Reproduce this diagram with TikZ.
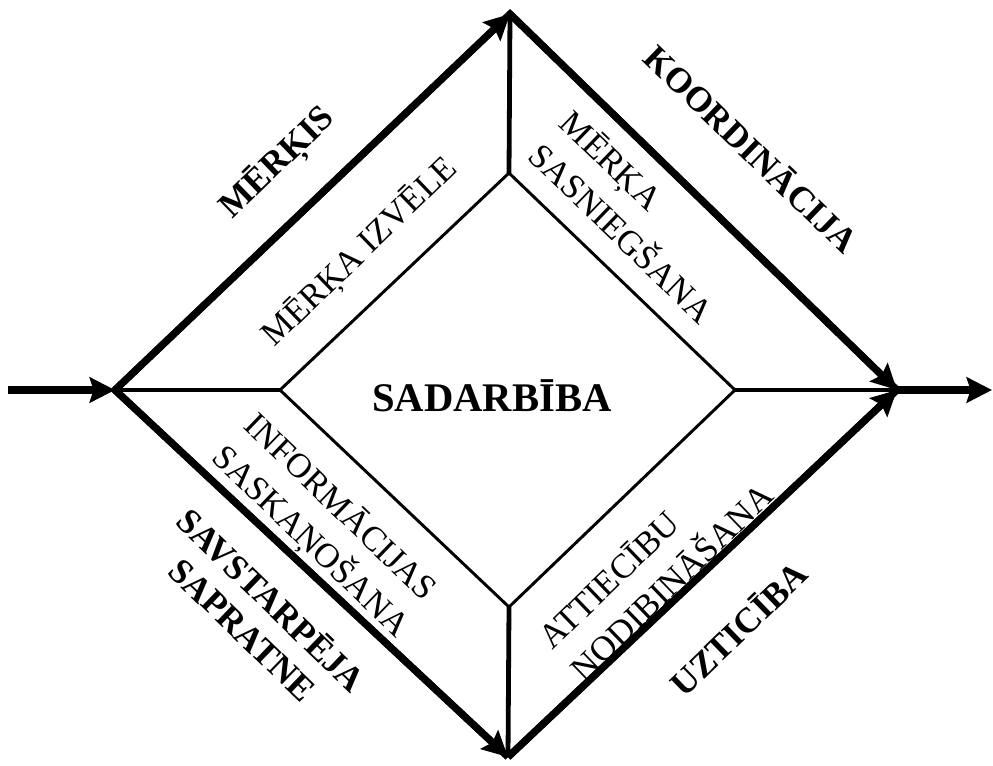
\documentclass[tikz,border=0pt]{standalone}
\usepackage{fontspec}
\setmainfont{Liberation Serif}
\usetikzlibrary{arrows.meta}
\tikzset{
  outer/.style={line width=5.4pt, line join=miter},
  spoke/.style={line width=3.6pt},
  innerline/.style={line width=2.2pt, line join=miter},
  io/.style={line width=6pt},
  tip/.style={-{Stealth[length=19pt,width=19pt,inset=3pt]}},
  lbl/.style={font=\fontsize{26}{34}\selectfont, inner sep=0pt},
  blbl/.style={font=\bfseries\fontsize{26.5}{34}\selectfont, inner sep=0pt},
}
\begin{document}
\begin{tikzpicture}[x=0.75pt,y=-0.75pt]
\useasboundingbox (0,0) rectangle (993,765);
% outer vertices
\coordinate (L) at (115,390);
\coordinate (T) at (510,14);
\coordinate (R) at (897,390);
\coordinate (B) at (508,757);
% inner vertices
\coordinate (l) at (280,390);
\coordinate (t) at (509,173);
\coordinate (r) at (735,390);
\coordinate (b) at (509,607);
\coordinate (in) at (8,390);
\coordinate (out) at (992,390);
% outer frame
\draw[outer] (B) -- (L) -- (T) -- (R) -- (B);
\draw[outer,tip] (L) -- (T);
\draw[outer,tip] (T) -- (R);
\draw[outer,tip] (L) -- (B);
\draw[outer,tip] (B) -- (R);
% input / output
\draw[io,tip] (in) -- (L);
\draw[io,tip] (R) -- (out);
% spokes
\draw[spoke] (L) -- (l);
\draw[spoke] (T) -- (t);
\draw[spoke] (R) -- (r);
\draw[spoke] (B) -- (b);
% inner diamond
\draw[innerline] (l) -- (t) -- (r) -- (b) -- cycle;
% labels
\node[font=\bfseries\fontsize{30.5}{36}\selectfont, inner sep=0pt] (sad) at (492,396) {SADARBĪBA};
\node[blbl, rotate=44] (merkis) at (278,163) {MĒRĶIS};
\node[lbl, rotate=44] (izvele) at (360,252) {MĒRĶA IZVĒLE};
\node[blbl, rotate=-44] (koord) at (752,148) {KOORDINĀCIJA};
\node[lbl, rotate=-44, align=left] (sasn) at (638,216) {MĒRĶA\\SASNIEGŠANA};
\node[lbl, rotate=-44, align=left] (info) at (326,526) {INFORMĀCIJAS\\SASKAŅOŠANA};
\node[blbl, rotate=-44, align=center, font=\bfseries\fontsize{26.5}{31}\selectfont] (savst) at (258,614) {SAVSTARPĒJA\\SAPRATNE};
\node[lbl, rotate=44, align=left] (attiec) at (655,565) {ATTIECĪBU\\NODIBINĀŠANA};
\node[blbl, rotate=44] (uztic) at (738,628) {UZTICĪBA};
\end{tikzpicture}
\end{document}
